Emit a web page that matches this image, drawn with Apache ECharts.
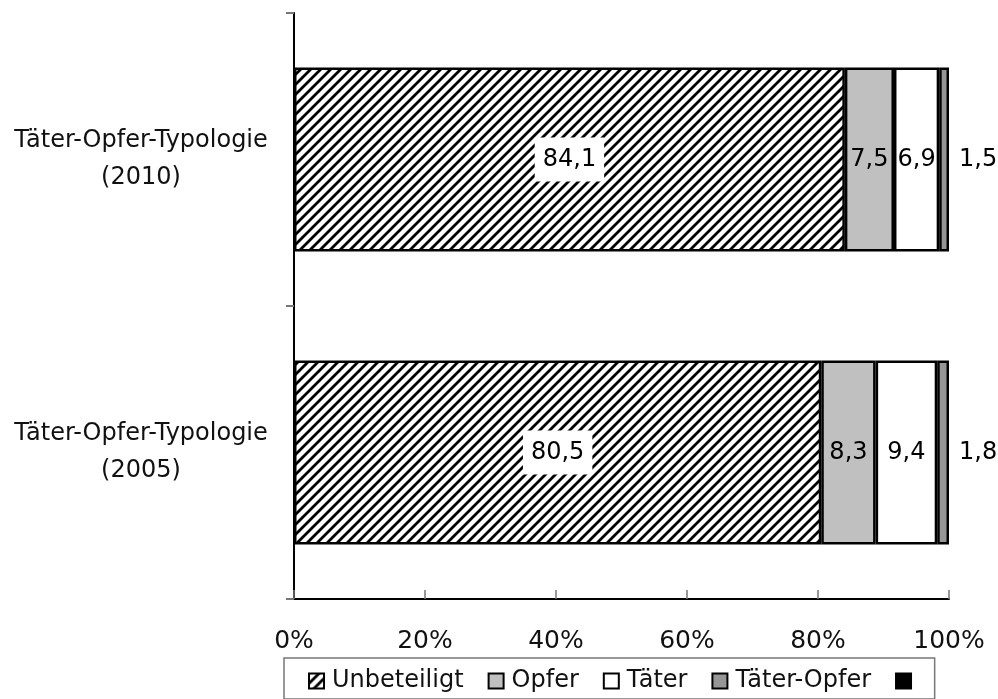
<!DOCTYPE html>
<html>
<head>
<meta charset="utf-8">
<script src="https://cdn.jsdelivr.net/npm/echarts@6/dist/echarts.min.js"></script>
<style>
  html, body { margin: 0; padding: 0; background: #fff; }
  #chart { width: 998px; height: 699px; }
</style>
</head>
<body>
<div id="chart"></div>
<script>
// Categories (bottom to top) and the share of each group in percent
const categories = ['Täter-Opfer-Typologie\n(2005)', 'Täter-Opfer-Typologie\n(2010)'];
const unbeteiligt = [80.5, 84.1];
const opfer = [8.3, 7.5];
const taeter = [9.4, 6.9];
const taeterOpfer = [1.8, 1.5];
const xTicks = [0, 20, 40, 60, 80, 100];

const FONT = 'DejaVu Sans';

// Diagonal hatch used for the "Unbeteiligt" segments
function hatchCanvas() {
  const s = 10;
  const c = document.createElement('canvas');
  c.width = s; c.height = s;
  const ctx = c.getContext('2d');
  ctx.fillStyle = '#fff';
  ctx.fillRect(0, 0, s, s);
  ctx.strokeStyle = '#000';
  ctx.lineWidth = 2.8;
  ctx.beginPath();
  ctx.moveTo(-1, s + 1); ctx.lineTo(s + 1, -1);
  ctx.moveTo(-2, 2); ctx.lineTo(2, -2);
  ctx.moveTo(s - 2, s + 2); ctx.lineTo(s + 2, s - 2);
  ctx.stroke();
  return c;
}

const fmt = p => String(p.value).replace('.', ',');
const labelBase = { show: true, color: '#000', fontFamily: FONT, fontSize: 24, formatter: fmt };
const barBorder = { borderColor: '#000', borderWidth: 2.5 };

function segment(name, data, color, label) {
  return {
    name: name,
    type: 'bar',
    stack: 'total',
    barWidth: 184,
    data: data,
    itemStyle: Object.assign({ color: color }, barBorder),
    label: Object.assign({}, labelBase, label),
    emphasis: { disabled: true }
  };
}

const chart = echarts.init(document.getElementById('chart'), null, { renderer: 'canvas' });

chart.setOption({
  animation: false,
  backgroundColor: '#fff',
  grid: { left: 294, right: 49, top: 13, bottom: 100 },
  xAxis: {
    type: 'value',
    min: xTicks[0],
    max: xTicks[xTicks.length - 1],
    interval: xTicks[1] - xTicks[0],
    axisLine: { show: true, lineStyle: { color: '#000', width: 2 } },
    axisTick: { show: true, inside: true, length: 9, lineStyle: { color: '#777', width: 1.5 } },
    splitLine: { show: false },
    axisLabel: {
      margin: 30,
      color: '#111',
      fontFamily: FONT,
      fontSize: 25,
      formatter: '{value}%'
    }
  },
  yAxis: {
    type: 'category',
    data: categories,
    axisLine: { show: true, lineStyle: { color: '#000', width: 2 } },
    axisTick: { show: true, length: 8, lineStyle: { color: '#777', width: 2 } },
    axisLabel: {
      margin: 153,
      align: 'center',
      color: '#111',
      fontFamily: FONT,
      fontSize: 24,
      lineHeight: 37,
      padding: [16, 0, 0, 0]
    }
  },
  legend: {
    left: 284,
    top: 658,
    padding: [11, 8, 6, 24],
    borderColor: '#777',
    borderWidth: 1.5,
    itemWidth: 15,
    itemHeight: 15,
    itemGap: 24,
    icon: 'rect',
    textStyle: { color: '#111', fontFamily: FONT, fontSize: 24, padding: [0, 0, 0, 3] },
    itemStyle: { borderColor: '#000', borderWidth: 2 },
    data: ['Unbeteiligt', 'Opfer', 'Täter', 'Täter-Opfer', ' ']
  },
  series: [
    segment('Unbeteiligt', unbeteiligt, { image: hatchCanvas(), repeat: 'repeat' },
      { position: 'inside', backgroundColor: '#fff', padding: [10, 8, 10, 8] }),
    segment('Opfer', opfer, '#c0c0c0', { position: 'inside' }),
    segment('Täter', taeter, '#ffffff', { position: 'inside' }),
    segment('Täter-Opfer', taeterOpfer, '#969696', { position: 'right', distance: 10 }),
    segment(' ', [], '#000000', {})
  ]
});
</script>
</body>
</html>
